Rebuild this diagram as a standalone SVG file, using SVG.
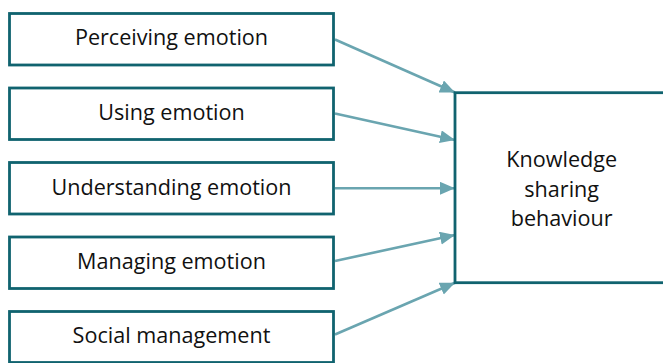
<svg xmlns="http://www.w3.org/2000/svg" width="663" height="363" viewBox="0 0 663 363">
  <style>
    .box { fill: #ffffff; stroke: #10636f; stroke-width: 2.8; }
    .lbl { font-family: "Open Sans", "Noto Sans", "Liberation Sans", sans-serif; font-size: 21.6px; fill: #111111; text-anchor: middle; }
    .conn { stroke: #6aa5b0; stroke-width: 2.6; fill: none; marker-end: url(#arrow); }
  </style>
  <defs>
    <marker id="arrow" markerUnits="userSpaceOnUse" markerWidth="16" markerHeight="14" refX="15" refY="6.5" orient="auto">
      <path d="M0,0 L15,6.5 L0,13 z" fill="#6aa5b0"/>
    </marker>
  </defs>
  <rect width="663" height="363" fill="#ffffff"/>

  <g id="connectors">
    <line class="conn" x1="335" y1="39.5" x2="455" y2="92.5"/>
    <line class="conn" x1="335" y1="113.5" x2="455" y2="140"/>
    <line class="conn" x1="335" y1="188.3" x2="455" y2="188.3"/>
    <line class="conn" x1="335" y1="261" x2="455" y2="235"/>
    <line class="conn" x1="335" y1="334.5" x2="455" y2="282.7"/>
  </g>

  <g id="node-perceiving">
    <rect class="box" x="9.5" y="13.5" width="324" height="51.5"/>
    <text class="lbl" x="171.5" y="45">Perceiving emotion</text>
  </g>
  <g id="node-using">
    <rect class="box" x="9.5" y="88" width="324" height="51.5"/>
    <text class="lbl" x="171.5" y="119.5">Using emotion</text>
  </g>
  <g id="node-understanding">
    <rect class="box" x="9.5" y="162.5" width="324" height="51.5"/>
    <text class="lbl" x="171.5" y="195">Understanding emotion</text>
  </g>
  <g id="node-managing">
    <rect class="box" x="9.5" y="237" width="324" height="51.5"/>
    <text class="lbl" x="171.5" y="268.5">Managing emotion</text>
  </g>
  <g id="node-social">
    <rect class="box" x="9.5" y="311.5" width="324" height="51"/>
    <text class="lbl" x="171.5" y="343.3">Social management</text>
  </g>
  <g id="node-knowledge">
    <rect class="box" x="455" y="92.7" width="215" height="190"/>
    <text class="lbl" x="561.7" y="167.3">Knowledge</text>
    <text class="lbl" x="561.7" y="196.5">sharing</text>
    <text class="lbl" x="561.7" y="225.5">behaviour</text>
  </g>
</svg>
